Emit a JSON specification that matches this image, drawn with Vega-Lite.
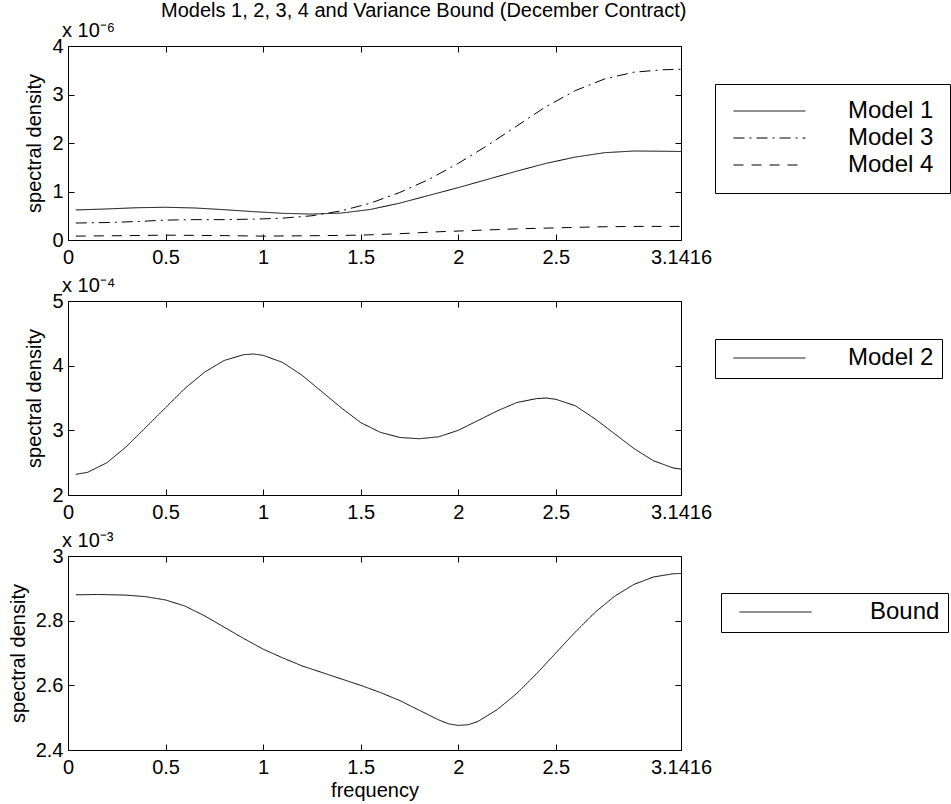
{
  "$schema": "https://vega.github.io/schema/vega-lite/v6.json",
  "background": "white",
  "padding": {"left": 7, "top": 0, "right": 0, "bottom": 2},
  "config": {
    "font": "Liberation Sans",
    "view": {"stroke": "black", "strokeWidth": 1},
    "axis": {
      "domain": false, "grid": false, "ticks": true, "tickSize": -6, "tickColor": "black", "tickWidth": 1,
      "labelColor": "black", "labelFontSize": 20, "labelFont": "Liberation Sans",
      "titleFont": "Liberation Sans", "titleFontSize": 20, "titleFontWeight": "normal", "titleColor": "black",
      "labelFlush": false, "labelOverlap": false
    },
    "axisY": {"labelPadding": 11, "titlePadding": 7},
    "axisX": {"labelPadding": 13, "titlePadding": 3},
    "legend": {
      "orient": "none", "title": null, "symbolType": "stroke", "symbolSize": 5184,
      "symbolStrokeWidth": 1, "symbolStrokeColor": "black", "clipHeight": 22, "rowPadding": 3,
      "labelFontSize": 24, "labelColor": "black", "labelFont": "Liberation Sans",
      "strokeColor": "black", "fillColor": "white", "labelLimit": 300
    },
    "title": {"fontWeight": "normal", "color": "black", "font": "Liberation Sans"}
  },
  "title": {"text": "Models 1, 2, 3, 4 and Variance Bound (December Contract)", "anchor": "start", "frame": "group", "dx": 93, "fontSize": 20, "offset": 0},
  "datasets": {
    "p1": [
      {"f": 0.04, "v": 0.62, "s": "Model 1"}, {"f": 0.2, "v": 0.64, "s": "Model 1"}, {"f": 0.35, "v": 0.665, "s": "Model 1"},
      {"f": 0.5, "v": 0.675, "s": "Model 1"}, {"f": 0.65, "v": 0.66, "s": "Model 1"}, {"f": 0.8, "v": 0.625, "s": "Model 1"},
      {"f": 0.95, "v": 0.585, "s": "Model 1"}, {"f": 1.1, "v": 0.55, "s": "Model 1"}, {"f": 1.25, "v": 0.535, "s": "Model 1"},
      {"f": 1.4, "v": 0.555, "s": "Model 1"}, {"f": 1.55, "v": 0.63, "s": "Model 1"}, {"f": 1.7, "v": 0.76, "s": "Model 1"},
      {"f": 1.85, "v": 0.92, "s": "Model 1"}, {"f": 2.0, "v": 1.08, "s": "Model 1"}, {"f": 2.15, "v": 1.25, "s": "Model 1"},
      {"f": 2.3, "v": 1.42, "s": "Model 1"}, {"f": 2.45, "v": 1.58, "s": "Model 1"}, {"f": 2.6, "v": 1.71, "s": "Model 1"},
      {"f": 2.75, "v": 1.8, "s": "Model 1"}, {"f": 2.9, "v": 1.835, "s": "Model 1"}, {"f": 3.05, "v": 1.83, "s": "Model 1"},
      {"f": 3.1416, "v": 1.825, "s": "Model 1"},
      {"f": 0.04, "v": 0.35, "s": "Model 3"}, {"f": 0.2, "v": 0.36, "s": "Model 3"}, {"f": 0.35, "v": 0.38, "s": "Model 3"},
      {"f": 0.5, "v": 0.41, "s": "Model 3"}, {"f": 0.65, "v": 0.42, "s": "Model 3"}, {"f": 0.8, "v": 0.42, "s": "Model 3"},
      {"f": 0.95, "v": 0.43, "s": "Model 3"}, {"f": 1.1, "v": 0.45, "s": "Model 3"}, {"f": 1.25, "v": 0.5, "s": "Model 3"},
      {"f": 1.4, "v": 0.6, "s": "Model 3"}, {"f": 1.55, "v": 0.76, "s": "Model 3"}, {"f": 1.7, "v": 0.98, "s": "Model 3"},
      {"f": 1.85, "v": 1.25, "s": "Model 3"}, {"f": 2.0, "v": 1.58, "s": "Model 3"}, {"f": 2.15, "v": 1.95, "s": "Model 3"},
      {"f": 2.3, "v": 2.35, "s": "Model 3"}, {"f": 2.45, "v": 2.75, "s": "Model 3"}, {"f": 2.6, "v": 3.08, "s": "Model 3"},
      {"f": 2.75, "v": 3.32, "s": "Model 3"}, {"f": 2.9, "v": 3.46, "s": "Model 3"}, {"f": 3.05, "v": 3.51, "s": "Model 3"},
      {"f": 3.1416, "v": 3.52, "s": "Model 3"},
      {"f": 0.04, "v": 0.08, "s": "Model 4"}, {"f": 0.3, "v": 0.09, "s": "Model 4"}, {"f": 0.5, "v": 0.1, "s": "Model 4"},
      {"f": 0.8, "v": 0.09, "s": "Model 4"}, {"f": 1.0, "v": 0.08, "s": "Model 4"}, {"f": 1.3, "v": 0.09, "s": "Model 4"},
      {"f": 1.5, "v": 0.1, "s": "Model 4"}, {"f": 1.7, "v": 0.13, "s": "Model 4"}, {"f": 1.9, "v": 0.17, "s": "Model 4"},
      {"f": 2.1, "v": 0.2, "s": "Model 4"}, {"f": 2.3, "v": 0.23, "s": "Model 4"}, {"f": 2.5, "v": 0.25, "s": "Model 4"},
      {"f": 2.7, "v": 0.27, "s": "Model 4"}, {"f": 2.9, "v": 0.28, "s": "Model 4"}, {"f": 3.1416, "v": 0.28, "s": "Model 4"}
    ],
    "p2": [
      {"f": 0.04, "v": 2.32, "s": "Model 2"}, {"f": 0.1, "v": 2.35, "s": "Model 2"}, {"f": 0.2, "v": 2.5, "s": "Model 2"},
      {"f": 0.3, "v": 2.75, "s": "Model 2"}, {"f": 0.4, "v": 3.05, "s": "Model 2"}, {"f": 0.5, "v": 3.35, "s": "Model 2"},
      {"f": 0.6, "v": 3.65, "s": "Model 2"}, {"f": 0.7, "v": 3.9, "s": "Model 2"}, {"f": 0.8, "v": 4.08, "s": "Model 2"},
      {"f": 0.9, "v": 4.17, "s": "Model 2"}, {"f": 0.95, "v": 4.18, "s": "Model 2"}, {"f": 1.0, "v": 4.16, "s": "Model 2"},
      {"f": 1.1, "v": 4.05, "s": "Model 2"}, {"f": 1.2, "v": 3.85, "s": "Model 2"}, {"f": 1.3, "v": 3.6, "s": "Model 2"},
      {"f": 1.4, "v": 3.35, "s": "Model 2"}, {"f": 1.5, "v": 3.12, "s": "Model 2"}, {"f": 1.6, "v": 2.97, "s": "Model 2"},
      {"f": 1.7, "v": 2.89, "s": "Model 2"}, {"f": 1.8, "v": 2.87, "s": "Model 2"}, {"f": 1.9, "v": 2.9, "s": "Model 2"},
      {"f": 2.0, "v": 3.0, "s": "Model 2"}, {"f": 2.1, "v": 3.15, "s": "Model 2"}, {"f": 2.2, "v": 3.3, "s": "Model 2"},
      {"f": 2.3, "v": 3.43, "s": "Model 2"}, {"f": 2.4, "v": 3.49, "s": "Model 2"}, {"f": 2.45, "v": 3.5, "s": "Model 2"},
      {"f": 2.5, "v": 3.48, "s": "Model 2"}, {"f": 2.6, "v": 3.38, "s": "Model 2"}, {"f": 2.7, "v": 3.18, "s": "Model 2"},
      {"f": 2.8, "v": 2.95, "s": "Model 2"}, {"f": 2.9, "v": 2.72, "s": "Model 2"}, {"f": 3.0, "v": 2.53, "s": "Model 2"},
      {"f": 3.1, "v": 2.42, "s": "Model 2"}, {"f": 3.1416, "v": 2.4, "s": "Model 2"}
    ],
    "p3": [
      {"f": 0.04, "v": 2.88, "s": "Bound"}, {"f": 0.15, "v": 2.881, "s": "Bound"}, {"f": 0.3, "v": 2.879, "s": "Bound"},
      {"f": 0.4, "v": 2.874, "s": "Bound"}, {"f": 0.5, "v": 2.864, "s": "Bound"}, {"f": 0.6, "v": 2.845, "s": "Bound"},
      {"f": 0.7, "v": 2.815, "s": "Bound"}, {"f": 0.8, "v": 2.78, "s": "Bound"}, {"f": 0.9, "v": 2.745, "s": "Bound"},
      {"f": 1.0, "v": 2.712, "s": "Bound"}, {"f": 1.1, "v": 2.685, "s": "Bound"}, {"f": 1.2, "v": 2.66, "s": "Bound"},
      {"f": 1.3, "v": 2.64, "s": "Bound"}, {"f": 1.4, "v": 2.62, "s": "Bound"}, {"f": 1.5, "v": 2.6, "s": "Bound"},
      {"f": 1.6, "v": 2.578, "s": "Bound"}, {"f": 1.7, "v": 2.553, "s": "Bound"}, {"f": 1.8, "v": 2.523, "s": "Bound"},
      {"f": 1.9, "v": 2.493, "s": "Bound"}, {"f": 1.95, "v": 2.481, "s": "Bound"}, {"f": 2.0, "v": 2.476, "s": "Bound"},
      {"f": 2.05, "v": 2.478, "s": "Bound"}, {"f": 2.1, "v": 2.488, "s": "Bound"}, {"f": 2.2, "v": 2.525, "s": "Bound"},
      {"f": 2.3, "v": 2.575, "s": "Bound"}, {"f": 2.4, "v": 2.635, "s": "Bound"}, {"f": 2.5, "v": 2.7, "s": "Bound"},
      {"f": 2.6, "v": 2.765, "s": "Bound"}, {"f": 2.7, "v": 2.825, "s": "Bound"}, {"f": 2.8, "v": 2.875, "s": "Bound"},
      {"f": 2.9, "v": 2.912, "s": "Bound"}, {"f": 3.0, "v": 2.935, "s": "Bound"}, {"f": 3.1, "v": 2.945, "s": "Bound"},
      {"f": 3.1416, "v": 2.946, "s": "Bound"}
    ]
  },
  "bounds": "flush",
  "spacing": 61,
  "resolve": {"scale": {"strokeDash": "independent"}, "legend": {"strokeDash": "independent"}},
  "vconcat": [
    {
      "width": 613, "height": 194,
      "title": {"text": "x 10⁻⁶", "anchor": "start", "frame": "group", "dx": -6, "fontSize": 20, "offset": -5},
      "data": {"name": "p1"},
      "layer": [
        {
          "mark": {"type": "line", "stroke": "black", "strokeWidth": 1},
          "encoding": {
            "x": {"field": "f", "type": "quantitative", "scale": {"domain": [0, 3.1416], "nice": false, "zero": false},
                  "axis": {"values": [0, 0.5, 1, 1.5, 2, 2.5, 3.1416], "labelExpr": "'' + datum.value", "title": null}},
            "y": {"field": "v", "type": "quantitative", "scale": {"domain": [0, 4], "nice": false},
                  "axis": {"values": [0, 1, 2, 3, 4], "labelExpr": "'' + datum.value", "title": "spectral density"}},
            "strokeDash": {"field": "s", "type": "nominal",
                           "scale": {"domain": ["Model 1", "Model 3", "Model 4"], "range": [[1, 0], [11, 5, 2, 5], [10, 8]]},
                           "legend": {"legendX": 647, "legendY": 38, "padding": 16, "symbolOffset": 2, "labelOffset": 42}}
          }
        },
        {
          "mark": {"type": "point", "opacity": 0},
          "encoding": {
            "x": {"field": "f", "type": "quantitative", "axis": {"orient": "top", "labels": false, "title": null, "values": [0, 0.5, 1, 1.5, 2, 2.5, 3.1416]}},
            "y": {"field": "v", "type": "quantitative", "axis": {"orient": "right", "labels": false, "title": null, "values": [0, 1, 2, 3, 4]}}
          }
        }
      ],
      "resolve": {"axis": {"x": "independent", "y": "independent"}}
    },
    {
      "width": 613, "height": 194,
      "title": {"text": "x 10⁻⁴", "anchor": "start", "frame": "group", "dx": -6, "fontSize": 20, "offset": -5},
      "data": {"name": "p2"},
      "layer": [
        {
          "mark": {"type": "line", "stroke": "black", "strokeWidth": 1},
          "encoding": {
            "x": {"field": "f", "type": "quantitative", "scale": {"domain": [0, 3.1416], "nice": false, "zero": false},
                  "axis": {"values": [0, 0.5, 1, 1.5, 2, 2.5, 3.1416], "labelExpr": "'' + datum.value", "title": null}},
            "y": {"field": "v", "type": "quantitative", "scale": {"domain": [2, 5], "nice": false, "zero": false},
                  "axis": {"values": [2, 3, 4, 5], "labelExpr": "'' + datum.value", "title": "spectral density"}},
            "strokeDash": {"field": "s", "type": "nominal", "scale": {"domain": ["Model 2"], "range": [[1, 0]]},
                           "legend": {"legendX": 647, "legendY": 38, "padding": 8, "symbolOffset": 10, "labelOffset": 42}}
          }
        },
        {
          "mark": {"type": "point", "opacity": 0},
          "encoding": {
            "x": {"field": "f", "type": "quantitative", "axis": {"orient": "top", "labels": false, "title": null, "values": [0, 0.5, 1, 1.5, 2, 2.5, 3.1416]}},
            "y": {"field": "v", "type": "quantitative", "axis": {"orient": "right", "labels": false, "title": null, "values": [2, 3, 4, 5]}}
          }
        }
      ],
      "resolve": {"axis": {"x": "independent", "y": "independent"}}
    },
    {
      "width": 613, "height": 194,
      "title": {"text": "x 10⁻³", "anchor": "start", "frame": "group", "dx": -6, "fontSize": 20, "offset": -5},
      "data": {"name": "p3"},
      "layer": [
        {
          "mark": {"type": "line", "stroke": "black", "strokeWidth": 1},
          "encoding": {
            "x": {"field": "f", "type": "quantitative", "scale": {"domain": [0, 3.1416], "nice": false, "zero": false},
                  "axis": {"values": [0, 0.5, 1, 1.5, 2, 2.5, 3.1416], "labelExpr": "'' + datum.value", "title": "frequency"}},
            "y": {"field": "v", "type": "quantitative", "scale": {"domain": [2.4, 3], "nice": false, "zero": false},
                  "axis": {"values": [2.4, 2.6, 2.8, 3], "labelExpr": "'' + datum.value", "title": "spectral density"}},
            "strokeDash": {"field": "s", "type": "nominal", "scale": {"domain": ["Bound"], "range": [[1, 0]]},
                           "legend": {"legendX": 653, "legendY": 37, "padding": 8, "symbolOffset": 10, "labelOffset": 58}}
          }
        },
        {
          "mark": {"type": "point", "opacity": 0},
          "encoding": {
            "x": {"field": "f", "type": "quantitative", "axis": {"orient": "top", "labels": false, "title": null, "values": [0, 0.5, 1, 1.5, 2, 2.5, 3.1416]}},
            "y": {"field": "v", "type": "quantitative", "axis": {"orient": "right", "labels": false, "title": null, "values": [2.4, 2.6, 2.8, 3]}}
          }
        }
      ],
      "resolve": {"axis": {"x": "independent", "y": "independent"}}
    }
  ]
}
